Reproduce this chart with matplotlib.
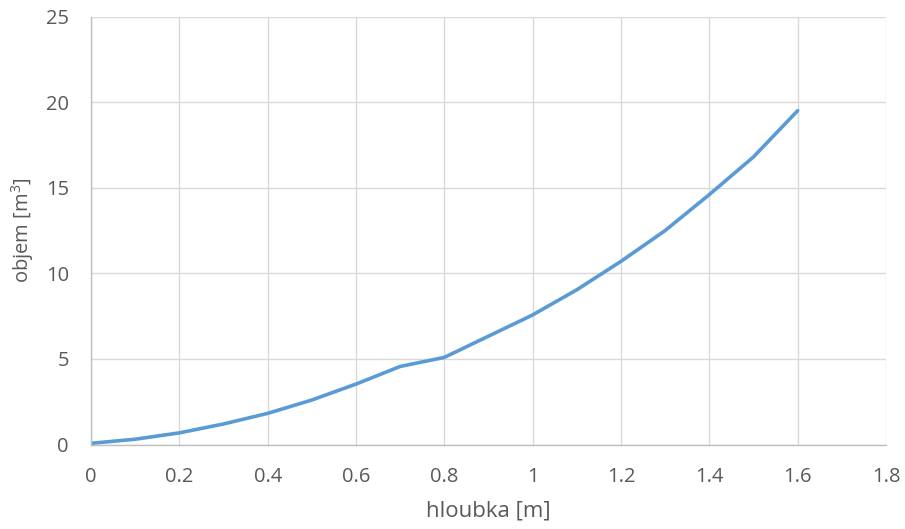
import matplotlib.pyplot as plt
import numpy as np

hloubka = [0.0, 0.1, 0.2, 0.3, 0.4, 0.5, 0.6, 0.7, 0.8, 0.9, 1.0,
           1.1, 1.2, 1.3, 1.4, 1.5, 1.6]
objem = [0.07, 0.31, 0.68, 1.2, 1.82, 2.6, 3.53, 4.56, 5.09, 6.33, 7.57,
         9.04, 10.7, 12.5, 14.6, 16.8, 19.5]
xticks = [0, 0.2, 0.4, 0.6, 0.8, 1.0, 1.2, 1.4, 1.6, 1.8]
yticks = [0, 5, 10, 15, 20, 25]

plt.rcParams['font.family'] = ['Open Sans', 'DejaVu Sans']
plt.rcParams['mathtext.fontset'] = 'custom'
plt.rcParams['mathtext.rm'] = 'Open Sans'
txt = '#595959'

fig = plt.figure(figsize=(9.05, 5.29), dpi=100)
ax = fig.add_axes([0.1006, 0.1597, 0.8784, 0.8091])

ax.plot(hloubka, objem, color='#5B9BD5', linewidth=2.6, solid_capstyle='round')

ax.set_xlim(0, 1.8)
ax.set_ylim(0, 25)
ax.set_xticks(xticks)
ax.set_xticklabels(['{:g}'.format(v) for v in xticks])
ax.set_yticks(yticks)
ax.grid(True, color='#D9D9D9', linewidth=1.0)
ax.set_axisbelow(True)
for s in ['top', 'right']:
    ax.spines[s].set_visible(False)
for s in ['left', 'bottom']:
    ax.spines[s].set_color('#BFBFBF')
    ax.spines[s].set_linewidth(1.0)
ax.tick_params(length=0, labelsize=14.5, labelcolor=txt)
ax.tick_params(axis='x', pad=16)
ax.tick_params(axis='y', pad=16)
ax.set_xlabel('hloubka [m]', fontsize=16, color=txt, labelpad=10)
ax.set_ylabel('objem [m$\\mathrm{^3}$]', fontsize=14.5, color=txt, labelpad=7)

fig.savefig('out.png', dpi=100)
